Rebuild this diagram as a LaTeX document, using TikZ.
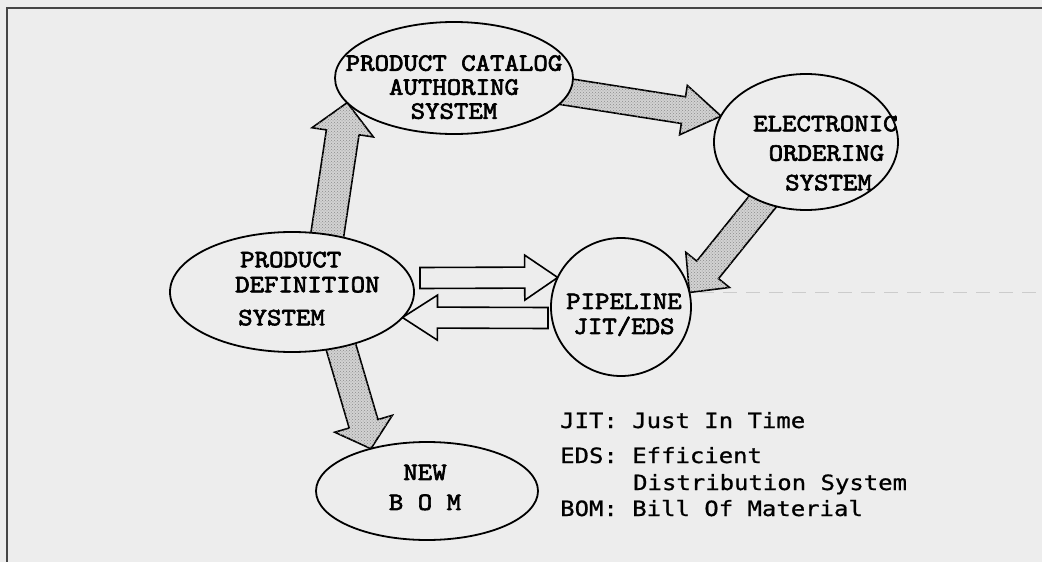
\documentclass[tikz,border=0pt]{standalone}
\usepackage{fontspec}
\usetikzlibrary{calc,shapes.geometric,patterns}
\newfontfamily\lblfont{lmmono10-regular}[Extension=.otf, FakeBold=2.4]
\newfontfamily\legfont{DejaVu Sans Mono}[FakeBold=0.8]
\newcommand\wl[1]{\scalebox{1.1}[1]{#1}}
\newcommand\wg[1]{\scalebox{1.14}[1]{#1}}
\definecolor{paper}{RGB}{237,237,237}
\definecolor{framec}{RGB}{70,70,70}
\pgfdeclarelayer{back}
\pgfdeclarelayer{arrows}
\pgfsetlayers{back,arrows,main}
% #1 style, #2 tail, #3 tip, #4 half shaft width, #5 half head width, #6 head length
\newcommand\makearrow[6]{%
  \coordinate (fab) at ($(#3)!#6!(#2)$);
  \path[#1] ($(#2)!#4!90:(#3)$) -- ($(fab)!#4!-90:(#2)$) -- ($(fab)!#5!-90:(#2)$)
    -- (#3) -- ($(fab)!#5!90:(#2)$) -- ($(fab)!#4!90:(#2)$) -- ($(#2)!#4!-90:(#3)$) -- cycle;}
\begin{document}
\begin{tikzpicture}[x=1pt,y=-1pt,
  ell/.style={ellipse, draw, line width=1.8pt, fill=paper, inner sep=0pt, outer sep=0pt},
  lbl/.style={font=\lblfont\fontsize{25}{#1}\selectfont, inner sep=0pt},
  leg/.style={font=\legfont\fontsize{21}{25}\selectfont, inner sep=0pt, anchor=base west},
  shaded/.style={draw=black, line width=1.6pt, line join=miter, fill=gray!35,
    postaction={pattern=crosshatch dots, pattern color=black!45}},
  hollow/.style={draw=black, line width=1.6pt, line join=miter, fill=paper}]
\useasboundingbox (0,0) rectangle (1042,562);
\begin{pgfonlayer}{back}
  \fill[paper] (0,0) rectangle (1042,562);
  \draw[framec, line width=2.5pt] (7,562) -- (7,8) -- (1042,8);
  \draw[gray!40, line width=1pt, dash pattern=on 14pt off 9pt] (700,292) -- (1042,292);
\end{pgfonlayer}

% ellipses
\node[ell, minimum width=238pt, minimum height=112pt] (pcas) at (454,78) {};
\node[ell, minimum width=184pt, minimum height=136pt] (eos) at (806,142) {};
\node[ell, minimum width=140pt, minimum height=138pt] (pipe) at (621,307) {};
\node[ell, minimum width=244pt, minimum height=120pt] (pds) at (292,292) {};
\node[ell, minimum width=222pt, minimum height=98pt] (bom) at (427,491) {};

% texts
\node[lbl=24pt, align=center, anchor=north] (t1) at (454,55)
  {\wl{PRODUCT CATALOG}\\\wl{AUTHORING}\\\wl{SYSTEM}};
\node[lbl=29.5pt, align=left, anchor=north west] (t2) at (753,115.5)
  {\wl{ELECTRONIC}\\\hspace*{15.5pt}\wl{ORDERING}\\\hspace*{32pt}\wl{SYSTEM}};
\node[lbl=25pt, align=left, anchor=north west] (t3) at (235,251.5)
  {\hspace*{5pt}\wl{PRODUCT}\\\wl{DEFINITION}\\[8pt]\hspace*{3pt}\wl{SYSTEM}};
\node[lbl=25pt, align=center, anchor=north] (t4) at (624,293.5)
  {\wl{PIPELINE}\\\wl{JIT/EDS}};
\node[lbl=30pt, align=center, anchor=north] (t5) at (425,464.5)
  {\wl{NEW}\\\wl{B O M}};

\node[leg] (l1) at (560,428) {\wg{JIT: Just In Time}};
\node[leg] (l2) at (560,463) {\wg{EDS: Efficient}};
\node[leg] (l3) at (633,490) {\wg{Distribution System}};
\node[leg] (l4) at (560,516) {\wg{BOM: Bill Of Material}};

% arrow end points
\coordinate (a1s) at (325,250);
\coordinate (a1e) at (pcas.193);
\coordinate (a2s) at (555,90);
\coordinate (a2e) at (eos.163);
\coordinate (a3s) at (772,190);
\coordinate (a3e) at (pipe.12);
\coordinate (a4s) at (336,330);
\coordinate (a4e) at (bom.143);
\coordinate (h1s) at (420,278);
\coordinate (h1e) at (pipe.155.6);
\coordinate (h2s) at (548,318);
\coordinate (h2e) at (pds.-13);

\begin{pgfonlayer}{arrows}
  \makearrow{shaded}{a1s}{a1e}{16.5pt}{31pt}{30pt}
  \makearrow{shaded}{a2s}{a2e}{13.5pt}{25pt}{38pt}
  \makearrow{shaded}{a3s}{a3e}{14pt}{28pt}{29pt}
  \makearrow{shaded}{a4s}{a4e}{15pt}{30pt}{26pt}
  \makearrow{hollow}{h1s}{h1e}{10.5pt}{22.5pt}{33pt}
  \makearrow{hollow}{h2s}{h2e}{10.5pt}{22.5pt}{35pt}
\end{pgfonlayer}
\end{tikzpicture}
\end{document}
